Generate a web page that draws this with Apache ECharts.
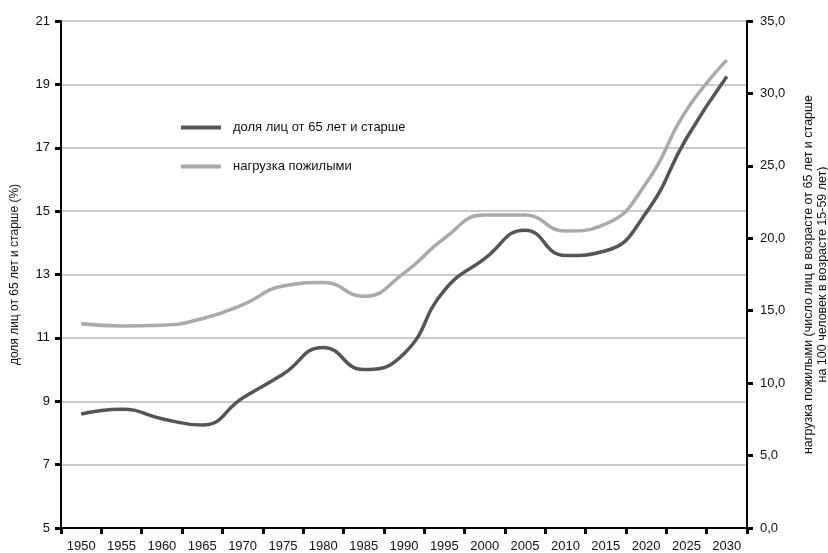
<!DOCTYPE html>
<html>
<head>
<meta charset="utf-8">
<script src="https://cdn.jsdelivr.net/npm/echarts@6/dist/echarts.min.js"></script>
<style>html,body{margin:0;padding:0;background:#fff}#c{width:828px;height:553px}</style>
</head>
<body>
<div id="c"></div>
<script>
const years = ['1950','1955','1960','1965','1970','1975','1980','1985','1990','1995','2000','2005','2010','2015','2020','2025','2030'];
const shareName = 'доля лиц от 65 лет и старше';
const loadName = 'нагрузка пожилыми';
const share = [8.6, 8.75, 8.45, 8.25, 9.1, 9.85, 10.7, 10.0, 10.5, 12.5, 13.5, 14.4, 13.6, 13.75, 14.95, 17.3, 19.25];
const load = [14.1, 13.95, 14.0, 14.45, 15.4, 16.7, 16.95, 16.0, 17.6, 20.0, 21.6, 21.6, 20.5, 21.0, 23.8, 28.85, 32.3];
const leftTitle = 'доля лиц от 65 лет и старше (%)';
const rightTitle = 'нагрузка пожилыми (число лиц в возрасте от 65 лет и старше\nна 100 человек в возрасте 15-59 лет)';

const FONT = 'Liberation Sans, Arial, sans-serif';
const chart = echarts.init(document.getElementById('c'), null, {renderer: 'canvas'});
const axisLine = {show: true, lineStyle: {color: '#000', width: 2}};
const axisTick = {show: true, inside: false, length: 6, lineStyle: {color: '#000', width: 3}};
chart.setOption({
  animation: false,
  backgroundColor: '#fff',
  textStyle: {fontFamily: FONT},
  grid: {left: 61, right: 81, top: 21, bottom: 25, containLabel: false, outerBoundsMode: 'none'},
  legend: {
    left: 181, top: 121, orient: 'vertical', itemGap: 26, padding: 0,
    icon: 'rect', itemWidth: 40, itemHeight: 4,
    textStyle: {fontFamily: FONT, fontSize: 13, color: '#111', padding: [0, 0, 0, 7]},
    data: [shareName, loadName]
  },
  xAxis: {
    type: 'category', data: years, boundaryGap: true,
    axisLine: axisLine,
    axisTick: {show: true, length: 6, interval: 0, lineStyle: {color: '#000', width: 3}},
    axisLabel: {interval: 0, fontFamily: FONT, fontSize: 13, color: '#111', margin: 12},
    splitLine: {show: false}
  },
  yAxis: [{
    type: 'value', min: 5, max: 21, interval: 2, position: 'left',
    axisLine: axisLine, axisTick: axisTick,
    axisLabel: {fontFamily: FONT, fontSize: 13, color: '#111', margin: 11},
    splitLine: {show: true, lineStyle: {color: '#b8b8b8', width: 1.5}},
    name: leftTitle, nameLocation: 'middle', nameRotate: 90, nameGap: 40,
    nameTextStyle: {fontFamily: FONT, fontSize: 12, color: '#111'}
  }, {
    type: 'value', min: 0, max: 35, interval: 5, position: 'right',
    axisLine: axisLine, axisTick: axisTick,
    axisLabel: {fontFamily: FONT, fontSize: 13, color: '#111', margin: 13,
      formatter: v => v.toFixed(1).replace('.', ',')},
    splitLine: {show: false},
    name: rightTitle, nameLocation: 'middle', nameRotate: 90, nameGap: 55,
    nameTextStyle: {fontFamily: FONT, fontSize: 12.5, color: '#111', lineHeight: 14, align: 'center'}
  }],
  series: [{
    name: shareName, type: 'line', yAxisIndex: 0, data: share,
    smooth: 0.5, showSymbol: false, symbol: 'none',
    color: '#555555', lineStyle: {color: '#555555', width: 3.5}, z: 3
  }, {
    name: loadName, type: 'line', yAxisIndex: 1, data: load,
    smooth: 0.5, showSymbol: false, symbol: 'none',
    color: '#aaaaaa', lineStyle: {color: '#aaaaaa', width: 3.5}, z: 2
  }]
});
</script>
</body>
</html>
